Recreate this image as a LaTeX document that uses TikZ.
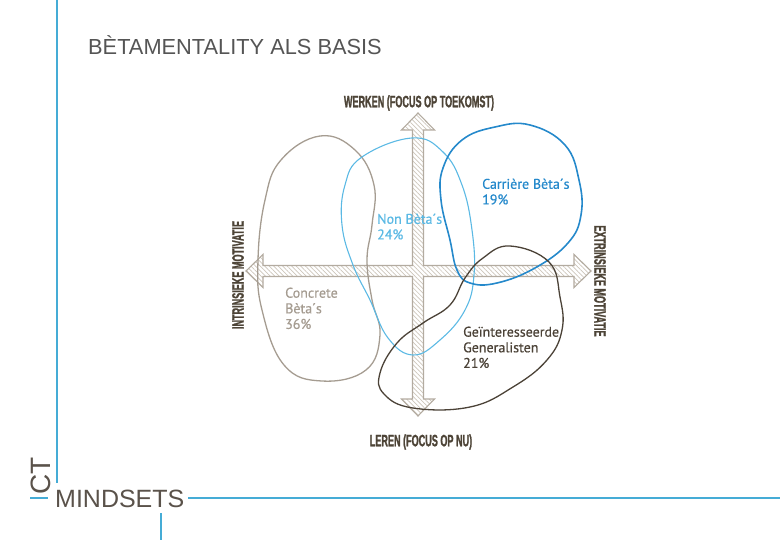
\documentclass[tikz,border=0pt]{standalone}
\usepackage{fontspec}
\setmainfont{Liberation Sans}
\newfontfamily\blobfont[FakeBold=0.6]{PT Sans}
\newfontfamily\axisfont[FakeStretch=0.55, FakeBold=1.2]{Liberation Sans}
\usetikzlibrary{patterns.meta}
\definecolor{frameblue}{HTML}{45ACD6}
\definecolor{titlegray}{HTML}{555555}
\definecolor{markbrown}{HTML}{5A524A}
\definecolor{axisbrown}{HTML}{4D4437}
\definecolor{arrowline}{HTML}{B3ABA0}
\definecolor{arrowhatch}{HTML}{CCC5BA}
\definecolor{concretec}{HTML}{A59C91}
\definecolor{nonbetac}{HTML}{5BB9E4}
\definecolor{carrierec}{HTML}{2589CB}
\definecolor{geintc}{HTML}{4B4237}

\begin{document}
\begin{tikzpicture}[x=1pt, y=-1pt,
  frame/.style={draw=frameblue, line width=1.8pt},
  axislbl/.style={font=\axisfont\bfseries\fontsize{16.5}{16.5}\selectfont, text=axisbrown, inner sep=0pt},
  bloblbl/.style={font=\blobfont\fontsize{14}{15.6}\selectfont, align=left, anchor=north west, inner sep=0pt},
  blob/.style={line width=1.3pt},
]
\useasboundingbox (0,0) rectangle (780,540);

% ---------- FRAME ----------
\draw[frame] (57,0) -- (57,483);
\draw[frame] (30,498) -- (48,498);
\draw[frame] (188,498) -- (780,498);
\draw[frame] (161,513) -- (161,540);
\node[anchor=base west, inner sep=0pt, text=titlegray, font=\fontsize{21.8}{21.8}\selectfont]
  (title) at (88,55) {BÈTAMENTALITY ALS BASIS};
\node[anchor=base west, inner sep=0pt, text=markbrown, font=\fontsize{25}{25}\selectfont]
  (mindsets) at (55,507) {MINDSETS};
\node[anchor=base west, inner sep=0pt, rotate=90, text=markbrown, font=\fontsize{28}{28}\selectfont]
  (ct) at (50,495) {CT};

% ---------- AXES ----------
\filldraw[draw=arrowline, line width=1.1pt, line join=miter,
  pattern={Lines[angle=-45, distance=3.2pt, line width=0.7pt]}, pattern color=arrowhatch]
  (418,113) -- (434.5,130) -- (423.5,130) -- (423.5,265.5) -- (574,265.5) -- (574,254.5)
  -- (591,271) -- (574,287.5) -- (574,276.5) -- (423.5,276.5) -- (423.5,399) -- (434.5,399)
  -- (418,416) -- (401.5,399) -- (412.5,399) -- (412.5,276.5) -- (263,276.5) -- (263,287.5)
  -- (246,271) -- (263,254.5) -- (263,265.5) -- (412.5,265.5) -- (412.5,130) -- (401.5,130) -- cycle;

\node[axislbl] (werken) at (419,103) {WERKEN (FOCUS OP TOEKOMST)};
\node[axislbl] (leren) at (421,442) {LEREN (FOCUS OP NU)};
\node[axislbl, rotate=90] (intrinsiek) at (238,275) {INTRINSIEKE MOTIVATIE};
\node[axislbl, rotate=-90] (extrinsiek) at (600,281) {EXTRINSIEKE MOTIVATIE};

% ---------- GROUPS ----------
\draw[blob, concretec] plot[smooth cycle, tension=0.7] coordinates {
  (320,136) (355,150) (374,185) (372,225) (367,260) (372,300) (380,335)
  (366,370) (322,381) (284,365) (262,310) (258,260) (265,200) (281,160)};
\draw[blob, nonbetac, line width=1.1pt] plot[smooth cycle, tension=0.7] coordinates {
  (412,138) (443,152) (462,185) (472,230) (474,275) (465,310) (440,340)
  (413,355) (388,338) (370,300) (353,265) (342,225) (345,185) (362,157)};
\draw[blob, carrierec, line width=1.6pt] plot[smooth cycle, tension=0.7] coordinates {
  (530,125) (565,145) (579,180) (581,215) (568,243) (535,268) (497,283)
  (470,283) (457,270) (450,240) (441,200) (443,168) (462,140) (495,127)};
\draw[blob, geintc] plot[smooth cycle, tension=0.7] coordinates {
  (510,246) (483,258) (465,278) (450,305) (423,323) (397,343) (380,373)
  (384,394) (413,408) (470,407) (513,387) (547,360) (562,330) (560,297) (549,262)};

\node[bloblbl, text=concretec] (concrete) at (285,287.5) {Concrete\\Bèta´s\\36\%};
\node[bloblbl, text=nonbetac] (nonbeta) at (377,213.5) {Non Bèta´s\\24\%};
\node[bloblbl, text=carrierec] (carriere) at (482,178.5) {Carrière Bèta´s\\19\%};
\node[bloblbl, text=geintc] (geint) at (463,326.5) {Geïnteresseerde\\Generalisten\\21\%};

\end{tikzpicture}
\end{document}
